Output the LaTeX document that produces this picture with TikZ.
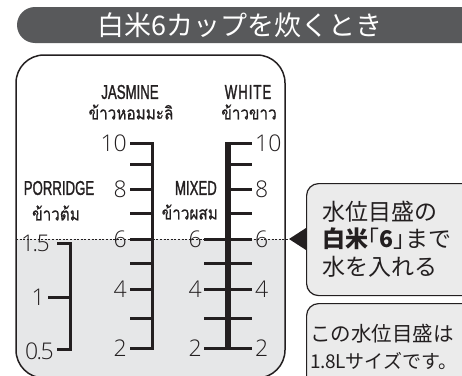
\documentclass[tikz,border=0pt]{standalone}
\usepackage{fontspec}
\setmainfont{Liberation Sans}
\newfontfamily\jpfont{Noto Sans CJK JP}
\newfontfamily\thaifont[Script=Thai,FakeStretch=0.85,FakeBold=0.6]{Loma}
\newfontfamily\condfont[FakeStretch=0.66,FakeBold=1.2]{Liberation Sans}
\newfontfamily\digitfont{Open Sans Light}
\definecolor{ink}{HTML}{231F20}
\definecolor{banner}{HTML}{58595B}
\definecolor{water}{HTML}{E6E7E8}
\definecolor{note}{HTML}{EBEBEB}

\begin{document}
\begin{tikzpicture}[x=1pt, y=-1pt,
		scaleline/.style={draw=ink, line width=3pt, miter limit=10},
		thickline/.style={draw=ink, line width=6pt},
		tick/.style={draw=ink, line width=3pt},
		digit/.style={font=\digitfont\fontsize{23}{23}\selectfont, text=ink, inner sep=0},
		caps/.style={font=\condfont\fontsize{20}{20}\selectfont, text=ink, inner sep=0},
		thai/.style={font=\thaifont\fontsize{18}{18}\selectfont, text=ink, inner sep=0},
		notebox/.style={draw=ink, line width=1.2pt, fill=note, rounded corners=12, anchor=north west, inner sep=0},
		levelline/.style={draw=ink, line width=0.8pt, dash pattern=on 2pt off 1.6pt}]
	\useasboundingbox (0,0) rectangle (462,375);
	\clip (0,0) rectangle (462,375);

	% title banner
	\fill[banner, rounded corners=18] (17,7) rectangle (495,43);
	\node[text=white, font=\jpfont\fontsize{27}{27}\selectfont] (title) at (240,25) {白米6カップを炊くとき};

	% measuring cup
	\begin{scope}
		\clip[rounded corners=28] (16,55) rectangle (285,378);
		\fill[water] (0,239) rectangle (300,400);
	\end{scope}
	\draw[ink, line width=1.5pt, rounded corners=28] (16,55) rectangle (285,378);

	% headings
	\node[caps] (jasmine) at (130,92) {JASMINE};
	\node[thai] (jasmineth) at (131,112) {ข้าวหอมมะลิ};
	\node[caps] (white) at (248,92) {\addfontfeature{LetterSpace=5}WHITE};
	\node[thai] (whiteth) at (249,112) {ข้าวขาว};
	\node[caps] (porridge) at (59,188) {PORRIDGE};
	\node[thai] (porridgeth) at (56,213) {ข้าวต้ม};
	\node[caps, anchor=east] (mixed) at (217,188) {MIXED};
	\node[thai, anchor=east] (mixedth) at (218,212) {ข้าวผสม};

	% jasmine scale
	\draw[scaleline] (130,143) -- (152,143) -- (152,348) -- (130,348);
	\foreach \yy in {164,189,213,239,263,289,318}
		\draw[tick] (130,\yy) -- (152,\yy);
	\foreach \val/\yy in {10/143,8/189,6/239,4/289,2/348}
		\node[digit, anchor=east] (j\val) at (127,\yy) {\val};

	% white / mixed scale
	\draw[thickline] (228,142) -- (228,349);
	\foreach \yy in {143,164,189,213,239,263,289,318,348}
		\draw[tick] (228,\yy) -- (252,\yy);
	\foreach \yy in {239,263,289,318,348}
		\draw[tick] (204,\yy) -- (228,\yy);
	\foreach \val/\yy in {10/143,8/189,6/239,4/289,2/348}
		\node[digit, anchor=west] (w\val) at (255,\yy) {\val};
	\foreach \val/\yy in {6/239,4/289,2/348}
		\node[digit, anchor=east] (m\val) at (202,\yy) {\val};

	% porridge scale
	\draw[scaleline] (57,243) -- (70,243) -- (70,349) -- (57,349);
	\draw[tick] (48,297) -- (70,297);
	\node[digit, anchor=east] (p15) at (50,243) {1\kern-1.5pt.\kern-1.5pt5};
	\node[digit, anchor=east] (p10) at (45,297) {1};
	\node[digit, anchor=east] (p05) at (54,351) {0\kern-1.5pt.\kern-1.5pt5};

	% water level and notes
	\coordinate (tip) at (289,239);
	\draw[levelline] (16,239) -- (tip);
	\node[notebox, minimum width=180, minimum height=112] (notebox) at (306,183) {};
	\fill[ink] (306,228) -- (tip) -- (306,250) -- cycle;
	\node[anchor=west, align=left, inner sep=0, text=ink, font=\jpfont\fontsize{23}{27.5}\selectfont] (notetext) at (322,239)
		{水位目盛の\\{\bfseries 白米}\makebox[0.5em][r]{「}{\bfseries 6}\makebox[0.5em][l]{」}まで\\水を入れる};
	\node[notebox, minimum width=180, minimum height=90] (memobox) at (306,303) {};
	\node[anchor=west, align=left, inner sep=0, text=ink, font=\jpfont\fontsize{20.5}{27}\selectfont] (memotext) at (310,347)
		{この水位目盛は\\{\fontsize{19}{27}\selectfont 1\kern-0.5pt.\kern-0.5pt8Lサイズです。}};
\end{tikzpicture}
\end{document}
